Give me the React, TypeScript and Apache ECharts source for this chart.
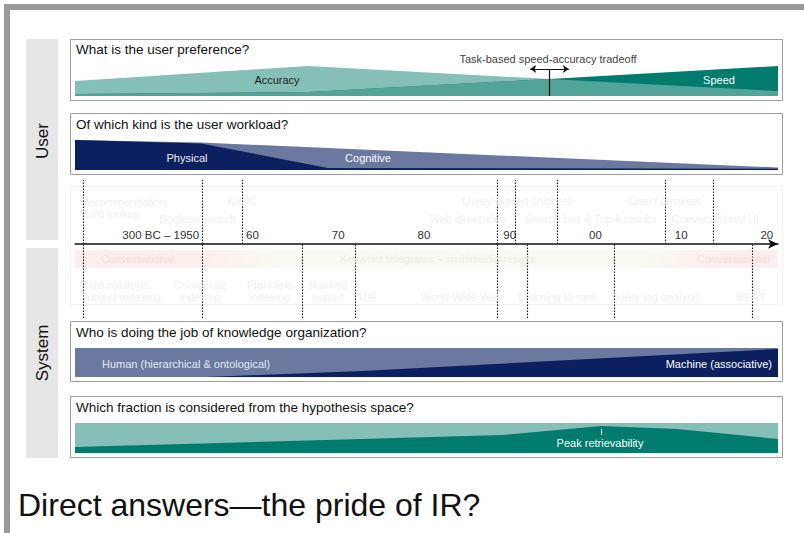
import React, { useEffect, useRef } from 'react';
import * as echarts from 'echarts';

const FONT = '"Liberation Sans", Arial, Helvetica, sans-serif';

// ---- Timeline scale (years) ----
const yearMin = 1940;
const yearMax = 2022;
const decadeTicks = [1950, 1960, 1970, 1980, 1990, 2000, 2010, 2020];
const decadeLabels = ['300 BC – 1950', '60', '70', '80', '90', '00', '10', '20'];

// ---- Box 1: user preference ----
const preferenceYears = [1940, 1967.2, 1995.3, 2022];
const accuracy = [15, 30, 17, 5];
const speed = [2, 4, 17, 30];
const tradeoffYear = 1995.3;
const tradeoffSpan = [1993.1, 1997.6];

// ---- Box 2: user workload ----
const physicalYears = [1940, 1954.7, 1969.5, 2022];
const physical = [30, 26.5, 2, 1.2];
const cognitiveYears = [1940, 1954.7, 2022];
const cognitive = [30, 27.5, 2.5];

// ---- Timeline milestones ----
const eraLinesFull = [1941.0, 1954.8, 1989.3];
const eraLinesAbove = [1959.5, 1991.4, 1996.3, 2008.8, 2014.4];
const eraLinesBelow = [1966.5, 1972.7, 1992.7, 2002.9, 2019.0];

const aboveNames = ['Recommendation,\nCard lookup', 'KWIC', 'Boolean search', 'Web directories', 'Query-biased snippets', 'Search box & Top-k results', 'Direct answers', 'Conversational UI'];
const aboveYears = [1940.6, 1959.5, 1954.3, 1985.8, 1991.6, 2000.2, 2008.8, 2014.7];
const aboveRows = ['two', 'upper', 'lower', 'lower', 'upper', 'lower', 'upper', 'lower'];

const belowNames = ['Card catalogs,\nSubject indexing', 'Coordinate\nindexing', 'Plain text\nindexing', 'Ranked\noutput', 'IDF', 'World Wide Web', 'Learning to rank', 'Query log analysis', 'BERT'];
const belowYears = [1940.6, 1954.6, 1962.7, 1969.5, 1974.2, 1985.1, 1996.3, 2007.7, 2018.9];
const belowRows = ['two', 'two', 'two', 'two', 'one', 'one', 'one', 'one', 'one'];

const modeNames = ['Conversational', 'Keyword telegrams + multimedia results', 'Conversational'];
const modeYears = [1947.3, 1982.3, 2016.8];

// ---- Box 3: knowledge organization ----
const humanYears = [1940, 2022];
const human = [29, 29];
const machineYears = [1940, 1955.3, 1973.5, 2022];
const machine = [0, 0, 6, 28];

// ---- Box 4: hypothesis space ----
const hypothesisYears = [1940, 2022];
const hypothesisAll = [30, 30];
const consideredYears = [1940, 1989.9, 2001.4, 2010.2, 2022];
const considered = [6, 18, 27, 24, 14];
const peakYear = 2001.4;

const LIGHT_TEAL = '#85bfb7';
const MID_TEAL = '#52a398';
const DARK_TEAL = '#007b6d';
const NAVY = '#0c1f5e';
const SLATE = '#6b78a0';

const zip = (xs: number[], ys: number[]) => xs.map((x, i) => [x, ys[i]]);

const aboveValue: Record<string, number> = { upper: 43, lower: 25, two: 36 };
const belowValue: Record<string, number> = { band: -15, two: -47, one: -53 };

function area(idx: number, xs: number[], ys: number[], color: string, extra: any = {}) {
  return {
    type: 'line',
    xAxisIndex: idx,
    yAxisIndex: idx,
    data: zip(xs, ys),
    symbol: 'none',
    silent: true,
    lineStyle: { width: 0, opacity: 0 },
    areaStyle: { color, opacity: 1 },
    ...extra,
  };
}

function text(x: number, y: number, t: string, size: number, fill: string, align = 'left', extra: any = {}) {
  return {
    type: 'text',
    x,
    y,
    z: 50,
    silent: true,
    style: {
      text: t,
      fill,
      font: `${size}px ${FONT}`,
      fontSize: size,
      fontFamily: FONT,
      textAlign: align,
      align,
      textVerticalAlign: 'middle',
      verticalAlign: 'middle',
    },
    ...extra,
  };
}

function box(y: number, h: number) {
  return {
    type: 'rect',
    z: 0,
    silent: true,
    shape: { x: 70.5, y: y + 0.5, width: 712, height: h },
    style: { fill: '#fff', stroke: '#9d9d9d', lineWidth: 1 },
  };
}

const FAINT = '#ebebeb';

function milestoneSeries(idx: number, data: any[], lines: any[]) {
  return {
    type: 'scatter',
    xAxisIndex: idx,
    yAxisIndex: idx,
    silent: true,
    symbolSize: 1,
    itemStyle: { color: 'rgba(0,0,0,0)' },
    z: 5,
    data,
    label: {
      show: true,
      position: 'inside',
      formatter: '{b}',
      color: FAINT,
      fontSize: 11,
      lineHeight: 12,
      fontFamily: FONT,
      align: 'center',
    },
    labelLayout: { hideOverlap: false },
    markLine: {
      silent: true,
      symbol: ['none', 'none'],
      label: { show: false },
      lineStyle: { color: '#111', width: 1.1, type: [1.5, 1.5] },
      data: lines,
    },
  };
}

export default function App() {
  const ref = useRef<HTMLDivElement>(null);
  useEffect(() => {
    if (!ref.current) return;
    const chart = echarts.init(ref.current, null, { renderer: 'svg' });

    const grids = [
      { left: 75, width: 703, top: 66, height: 30 },
      { left: 75, width: 703, top: 140, height: 30 },
      { left: 75, width: 703, top: 180, height: 64 },
      { left: 75, width: 703, top: 348, height: 29 },
      { left: 75, width: 703, top: 423, height: 30 },
      { left: 75, width: 703, top: 244, height: 74 },
    ];
    const yRanges = [[0, 30], [0, 30], [0, 64], [0, 29], [0, 30], [-74, 0]];

    const xAxis = grids.map((_, i) =>
      i === 2
        ? {
            type: 'value',
            gridIndex: i,
            min: yearMin,
            max: yearMax,
            interval: 10,
            position: 'bottom',
            axisLine: {
              show: true,
              onZero: false,
              symbol: ['none', 'arrow'],
              symbolSize: [7, 10],
              lineStyle: { color: '#111', width: 1.5 },
            },
            axisTick: { show: false },
            splitLine: { show: false },
            axisLabel: {
              inside: true,
              interval: 0,
              margin: 3,
              color: '#333',
              fontSize: 11.5,
              fontFamily: FONT,
              formatter: (v: number) => {
                const k = decadeTicks.indexOf(Math.round(v));
                if (k < 0 || Math.abs(v - Math.round(v)) > 0.01) return '';
                return k === 0 ? `{era|${decadeLabels[k]}}` : `{dec|${decadeLabels[k]}}`;
              },
              rich: {
                era: { color: '#333', fontSize: 11.5, fontFamily: FONT },
                dec: { color: '#333', fontSize: 11.5, fontFamily: FONT, padding: [0, 0, 0, 12] },
              },
            },
          }
        : { type: 'value', gridIndex: i, min: yearMin, max: yearMax, show: false }
    );
    const yAxis = grids.map((_, i) => ({
      type: 'value',
      gridIndex: i,
      min: yRanges[i][0],
      max: yRanges[i][1],
      show: false,
    }));

    const overlap = accuracy.map((a, i) => Math.min(a, speed[i]));

    const aboveData: any[] = aboveNames.map((n, i) => ({
      name: n,
      value: [aboveYears[i], aboveValue[aboveRows[i]]],
      label: i === 0 ? { align: 'left' } : {},
    }));
    const belowData: any[] = belowNames.map((n, i) => ({
      name: n,
      value: [belowYears[i], belowValue[belowRows[i]]],
      label: i === 0 ? { align: 'left' } : {},
    }));
    modeNames.forEach((n, i) => {
      belowData.push({
        name: n,
        value: [modeYears[i], belowValue.band],
        label: { color: i === 1 ? '#e6ebdd' : '#f6d3d3' },
      });
    });

    const linesAbove: any[] = [];
    const linesBelow: any[] = [];
    eraLinesFull.forEach((y) => {
      linesAbove.push([{ coord: [y, 0] }, { coord: [y, 64] }]);
      linesBelow.push([{ coord: [y, -74] }, { coord: [y, 0] }]);
    });
    eraLinesAbove.forEach((y) => linesAbove.push([{ coord: [y, 0] }, { coord: [y, 64] }]));
    eraLinesBelow.forEach((y) => linesBelow.push([{ coord: [y, -74] }, { coord: [y, 0] }]));

    const series: any[] = [
      area(0, preferenceYears, accuracy, LIGHT_TEAL),
      area(0, preferenceYears, speed, DARK_TEAL),
      area(0, preferenceYears, overlap, MID_TEAL, {
        markLine: {
          silent: true,
          symbol: ['none', 'none'],
          label: { show: false },
          lineStyle: { color: '#111', width: 1.2, type: 'solid' },
          data: [
            [{ coord: [tradeoffYear, 0] }, { coord: [tradeoffYear, 27] }],
            [
              { coord: [tradeoffSpan[0], 27], symbol: 'arrow', symbolSize: 6 },
              { coord: [tradeoffSpan[1], 27], symbol: 'arrow', symbolSize: 6 },
            ],
          ],
        },
      }),
      area(1, cognitiveYears, cognitive, SLATE),
      area(1, physicalYears, physical, NAVY),
      milestoneSeries(2, aboveData, linesAbove),
      milestoneSeries(5, belowData, linesBelow),
      area(3, humanYears, human, SLATE),
      area(3, machineYears, machine, NAVY),
      area(4, hypothesisYears, hypothesisAll, LIGHT_TEAL),
      area(4, consideredYears, considered, DARK_TEAL, {
        markLine: {
          silent: true,
          symbol: ['none', 'none'],
          label: { show: false },
          lineStyle: { color: '#fff', width: 1, type: 'solid' },
          data: [[{ coord: [peakYear, 18] }, { coord: [peakYear, 24] }]],
        },
      }),
    ];

    const graphic: any[] = [
      // slide frame
      { type: 'rect', z: 0, silent: true, shape: { x: 4, y: 4, width: 800, height: 6 }, style: { fill: '#9a9a9a' } },
      { type: 'rect', z: 0, silent: true, shape: { x: 4, y: 4, width: 6, height: 529 }, style: { fill: '#9a9a9a' } },
      // side panels
      { type: 'rect', z: 0, silent: true, shape: { x: 26, y: 39, width: 32, height: 201 }, style: { fill: '#e6e6e6' } },
      { type: 'rect', z: 0, silent: true, shape: { x: 26, y: 248, width: 32, height: 210 }, style: { fill: '#e6e6e6' } },
      text(42, 141, 'User', 17, '#111', 'center', { rotation: Math.PI / 2 }),
      text(42, 353, 'System', 17, '#111', 'center', { rotation: Math.PI / 2 }),
      // boxes
      box(39, 61),
      box(113, 61),
      box(321, 60),
      box(396, 61),
      // timeline faint frame and band
      {
        type: 'rect', z: 0, silent: true,
        shape: { x: 70.5, y: 186.5, width: 712, height: 118 },
        style: { fill: '#fff', stroke: '#f2f2f2', lineWidth: 1 },
      },
      {
        type: 'rect', z: 1, silent: true,
        shape: { x: 75, y: 250, width: 703, height: 18 },
        style: {
          fill: new echarts.graphic.LinearGradient(0, 0, 1, 0, [
            { offset: 0, color: '#fdeeee' },
            { offset: 0.17, color: '#fdeeee' },
            { offset: 0.3, color: '#f8fbf3' },
            { offset: 0.8, color: '#f8fbf3' },
            { offset: 0.92, color: '#fdeeee' },
            { offset: 1, color: '#fdeeee' },
          ]),
        },
      },
      // titles
      text(76, 49, 'What is the user preference?', 13.5, '#111'),
      text(76, 124, 'Of which kind is the user workload?', 13.5, '#111'),
      text(76, 332, 'Who is doing the job of knowledge organization?', 13.5, '#111'),
      text(76, 407, 'Which fraction is considered from the hypothesis space?', 13.5, '#111'),
      // band labels
      text(548, 59, 'Task-based speed-accuracy tradeoff', 11, '#444', 'center'),
      text(277, 80, 'Accuracy', 11, '#222', 'center'),
      text(719, 80, 'Speed', 11, '#ffffff', 'center'),
      text(187, 158, 'Physical', 11, '#eef0f6', 'center'),
      text(368, 158, 'Cognitive', 11, '#ffffff', 'center'),
      text(102, 364, 'Human (hierarchical & ontological)', 11, '#e6e9f2'),
      text(772, 364, 'Machine (associative)', 11, '#ffffff', 'right'),
      text(600, 443, 'Peak retrievability', 11, '#ffffff', 'center'),
      // slide title
      text(18, 505, 'Direct answers—the pride of IR?', 32, '#111'),
    ];

    chart.setOption({
      animation: false,
      backgroundColor: '#ffffff',
      grid: grids,
      xAxis,
      yAxis,
      series,
      graphic,
    });
    return () => chart.dispose();
  }, []);

  return (
    <div
      ref={ref}
      style={{ position: 'fixed', left: 0, top: 0, width: 804, height: 533, background: '#fff' }}
    />
  );
}
